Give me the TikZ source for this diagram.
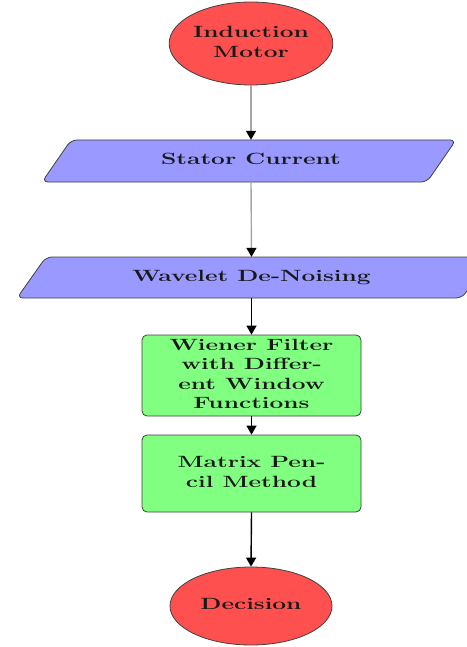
\documentclass[tikz,border=0pt]{standalone}
\usepackage{graphicx}
\usetikzlibrary{shapes.geometric,arrows.meta}
\definecolor{ellred}{RGB}{255,80,80}
\definecolor{parblue}{RGB}{153,153,255}
\definecolor{boxgreen}{RGB}{128,255,128}
\newcommand\wtxt[1]{\scalebox{1.5}[1]{\begin{tabular}{@{}c@{}}#1\end{tabular}}}
\begin{document}
\begin{tikzpicture}[x=1pt,y=-1pt,
  txt/.style={font=\fontsize{16.3}{19.4}\selectfont\bfseries, inner sep=0pt, text=black!90},
  ell/.style={txt, ellipse, draw=black!75, line width=0.8pt, fill=ellred, minimum width=162pt},
  para/.style={draw=black!75, line width=0.8pt, fill=parblue, rounded corners=6pt},
  gbox/.style={txt, rectangle, draw=black!75, line width=0.8pt, fill=boxgreen, rounded corners=5pt, minimum width=219pt},
  ptxt/.style={txt, rectangle, minimum width=200pt},
  conn/.style={line width=1.4pt, -{Triangle[length=9pt,width=10pt,color=black]}},
  gconn/.style={conn, draw=black!35},
  bconn/.style={conn, draw=black}
]
\useasboundingbox (0,0) rectangle (466,647);
% shapes of the parallelograms
\draw[para] (71,140) -- (456,140) -- (427,182) -- (42,182) -- cycle;
\draw[para] (46,257) -- (491,257) -- (462,298) -- (17,298) -- cycle;
% nodes
\node[ell, minimum height=83pt] (im) at (251,43.5) {\wtxt{Induction\\Motor}};
\node[ptxt, minimum height=42pt] (sc) at (251,161) {\wtxt{Stator Current}};
\node[ptxt, minimum height=41pt] (wd) at (251.5,277.5) {\wtxt{Wavelet De-Noising}};
\node[gbox, minimum height=81pt] (wf) at (251.5,375.5) {\wtxt{Wiener Filter\\with Differ-\\ent Window\\Functions}};
\node[gbox, minimum height=77pt] (mp) at (251.5,473.5) {\wtxt{Matrix Pen-\\cil Method}};
\node[ell, minimum height=78pt] (de) at (251,606) {\wtxt{Decision}};
% connectors
\draw[gconn] (im.south) -- (sc.north);
\draw[gconn] (sc.south) -- (wd.north);
\draw[bconn] (wd.south) -- (wf.north);
\draw[bconn] (wf.south) -- (mp.north);
\draw[bconn] (mp.south) -- (de.north);
\end{tikzpicture}
\end{document}
